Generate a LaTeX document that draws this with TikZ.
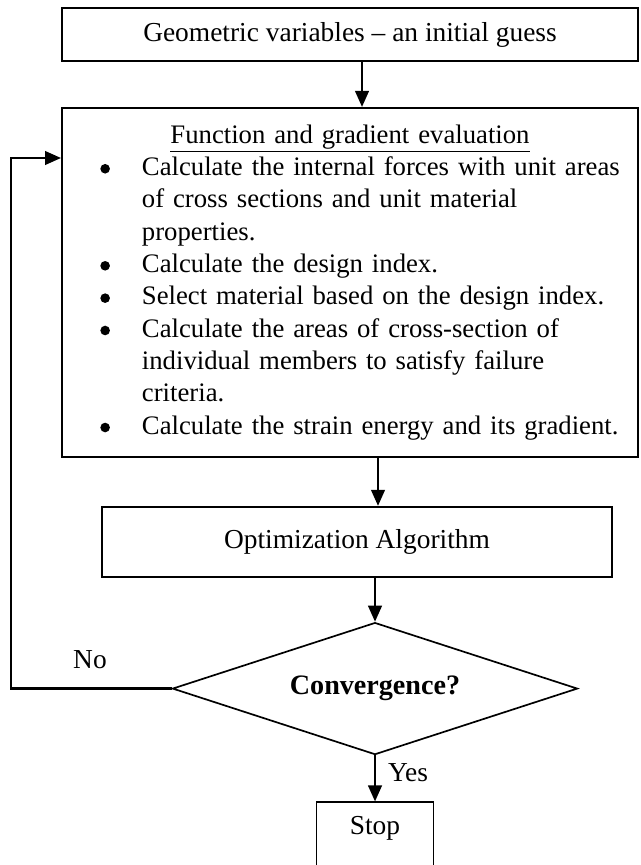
\documentclass[tikz,border=0pt]{standalone}
\usepackage{fontspec}
\setmainfont{Liberation Serif}
\usetikzlibrary{positioning,shapes.geometric,arrows.meta}

\newcommand\evalbullet{\tikz[baseline=-0.17cm]\fill (0,0) circle (0.12cm);}

\begin{document}
\begin{tikzpicture}[
    x=0.025cm, y=-0.025cm,
    >={Triangle[length=0.4cm,width=0.34cm]},
    node distance=1.15cm,
    every node/.style={font=\fontsize{19.5}{22.9}\selectfont},
    block/.style={rectangle, draw, line width=1.3pt, inner sep=0.25cm},
    decision/.style={diamond, draw, line width=1.2pt, aspect=3.07, minimum width=10.125cm, minimum height=3.3cm, inner sep=0pt},
    arrow/.style={->, line width=1.6pt},
    tag/.style={inner sep=0pt}
]
\useasboundingbox (0,0) rectangle (640,865);
\clip (0,0) rectangle (640,865);

% Start
\node[block, minimum width=14.4cm, minimum height=1.325cm] (geo) at (350,34.5) {Geometric variables -- an initial guess};

% Evaluation
\node[block, below=1.125cm of geo, minimum width=14.4cm, minimum height=8.725cm, text width=14.1cm, inner xsep=0.15cm, align=left,
      font=\fontsize{19}{23}\selectfont] (eval) {%
    \makebox[\linewidth]{\underline{Function and gradient evaluation}}\par
    \begin{list}{\evalbullet}{\setlength\leftmargin{1.85cm}\setlength\labelsep{0.8cm}\setlength\labelwidth{1.05cm}%
        \setlength\topsep{0pt}\setlength\partopsep{0pt}\setlength\itemsep{0pt}\setlength\parsep{0pt}%
        \setlength\rightmargin{0pt}}
        \item Calculate the internal forces with unit areas\newline of cross sections and unit material\newline properties.
        \item Calculate the design index.
        \item Select material based on the design index.
        \item Calculate the areas of cross-section of\newline individual members to satisfy failure\newline criteria.
        \item Calculate the strain energy and its gradient.
    \end{list}};

% Optimizer and test
\node[block, below=1.2cm of eval, xshift=0.175cm, minimum width=12.75cm, minimum height=1.75cm] (opt) {Optimization Algorithm};
\node[decision, below=1.1cm of opt, xshift=0.45cm] (conv) {\fontsize{20}{24}\selectfont\bfseries Convergence?};
\node[block, below=of conv, minimum width=2.925cm, minimum height=1.8cm, text depth=0.65cm] (stop) {Stop};

% Labels
\node[tag] (no) at (90,660) {No};
\node[tag] (yes) at (408,773) {Yes};
\coordinate (back) at (11,158);

% Arrows
\draw[arrow] ([xshift=0.3cm]geo.south) -- ([xshift=0.3cm]geo.south |- eval.north);
\draw[arrow] ([xshift=0.7cm]eval.south) -- ([xshift=0.7cm]eval.south |- opt.north);
\draw[arrow] (opt.south -| conv.north) -- (conv.north);
\draw[arrow] (conv.south) -- (stop.north);
\draw[arrow] (conv.west) -| (back) -- (back -| eval.west);

\end{tikzpicture}
\end{document}
